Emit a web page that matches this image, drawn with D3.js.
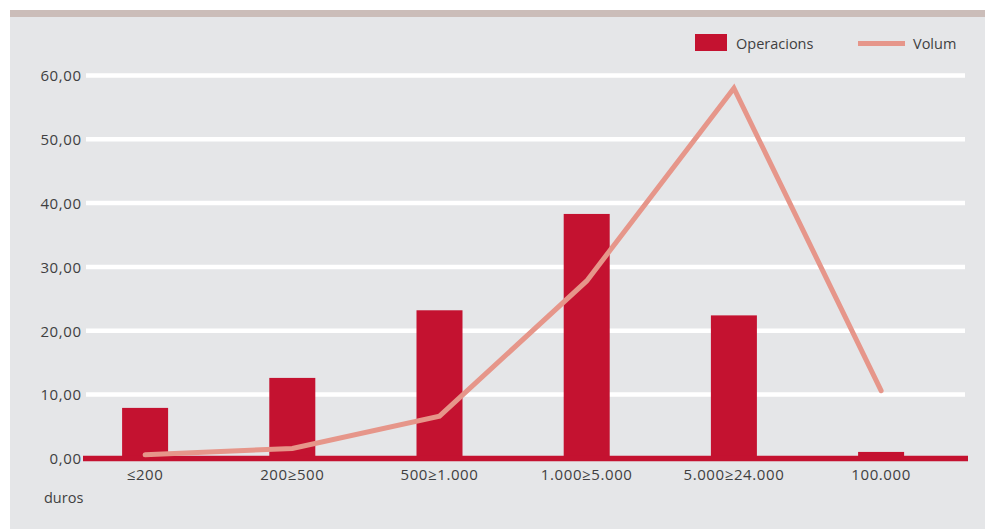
<!DOCTYPE html>
<html>
<head>
<meta charset="utf-8">
<script src="https://cdn.jsdelivr.net/npm/d3@7/dist/d3.min.js"></script>
<style>
  html, body { margin: 0; padding: 0; background: #ffffff; }
  svg { display: block; }
  text { font-family: "Open Sans", "Noto Sans", sans-serif; fill: #3f3f41; }
</style>
</head>
<body>
<svg id="chart" width="985" height="529"></svg>
<script>
// Import brackets (in duros)
const categories = ["≤200", "200≥500", "500≥1.000", "1.000≥5.000", "5.000≥24.000", "100.000"];
// Share of operations (%)
const operacions = [7.9, 12.6, 23.2, 38.3, 22.4, 1.0];
// Share of volume (%)
const volum = [0.55, 1.55, 6.6, 27.8, 58.0, 10.6];
// Y axis ticks
const yTicks = [0, 10, 20, 30, 40, 50, 60];
const seriesNames = ["Operacions", "Volum"];
const unitLabel = "duros";

const W = 985, H = 529;
const barColor = "#c41230";
const lineColor = "#e6968a";

const svg = d3.select("#chart");

// frame: taupe band above a light grey panel
svg.append("rect").attr("x", 10).attr("y", 10).attr("width", W - 10).attr("height", 7).attr("fill", "#cbbdb9");
svg.append("rect").attr("x", 10).attr("y", 17).attr("width", W - 10).attr("height", H - 17).attr("fill", "#e5e6e8");

const y = d3.scaleLinear().domain([0, 60]).range([458.3, 75.5]);
const x = d3.scaleBand().domain(categories).range([71.5, 954.7]).padding(0);
const barW = x.bandwidth() * 0.3125;
const cx = d => x(d) + x.bandwidth() / 2;

// horizontal gridlines
svg.append("g").selectAll("line")
  .data(yTicks.filter(t => t > 0))
  .join("line")
  .attr("x1", 86).attr("x2", 965)
  .attr("y1", d => y(d)).attr("y2", d => y(d))
  .attr("stroke", "#ffffff").attr("stroke-width", 4.5);

// y axis labels
const yAxis = d3.axisLeft(y).tickValues(yTicks)
  .tickFormat(d => d3.format(".2f")(d).replace(".", ","))
  .tickSize(0).tickPadding(0);
const gy = svg.append("g").attr("transform", "translate(81.6,0)").call(yAxis);
gy.select(".domain").remove();
gy.selectAll("text").attr("font-size", 15).attr("fill", "#3f3f41")
  .style("font-family", "'Open Sans', sans-serif").style("letter-spacing", "0.6px")
  .attr("dy", "0.36em");

// bars
svg.append("g").selectAll("rect")
  .data(categories)
  .join("rect")
  .attr("x", d => cx(d) - barW / 2)
  .attr("width", barW)
  .attr("y", (d, i) => y(operacions[i]))
  .attr("height", (d, i) => y(0) - y(operacions[i]))
  .attr("fill", barColor);

// baseline
svg.append("line")
  .attr("x1", 83).attr("x2", 968)
  .attr("y1", y(0) + 0.3).attr("y2", y(0) + 0.3)
  .attr("stroke", barColor).attr("stroke-width", 5.5);

// x axis labels
const xAxis = d3.axisBottom(x).tickSize(0).tickPadding(0);
const gx = svg.append("g").attr("transform", "translate(0,469)").call(xAxis);
gx.select(".domain").remove();
gx.selectAll("text").attr("font-size", 15).attr("fill", "#3f3f41")
  .style("font-family", "'Open Sans', sans-serif").style("letter-spacing", "0.6px")
  .attr("dy", "0.71em");

svg.append("text").attr("x", 44).attr("y", 503).attr("font-size", 14.5).text(unitLabel);

// volume line
const line = d3.line()
  .x((d, i) => cx(categories[i]))
  .y(d => y(d));
svg.append("path")
  .datum(volum)
  .attr("d", line)
  .attr("fill", "none")
  .attr("stroke", lineColor)
  .attr("stroke-width", 5)
  .attr("stroke-linecap", "round")
  .attr("stroke-linejoin", "miter");

// legend
const lg = svg.append("g");
lg.append("rect").attr("x", 695).attr("y", 34).attr("width", 32).attr("height", 17).attr("fill", barColor);
lg.append("text").attr("x", 736).attr("y", 48.5).attr("font-size", 14.5).text(seriesNames[0]);
lg.append("line").attr("x1", 858).attr("x2", 905).attr("y1", 43.5).attr("y2", 43.5)
  .attr("stroke", lineColor).attr("stroke-width", 5);
lg.append("text").attr("x", 913).attr("y", 48.5).attr("font-size", 14.5).text(seriesNames[1]);
</script>
</body>
</html>
